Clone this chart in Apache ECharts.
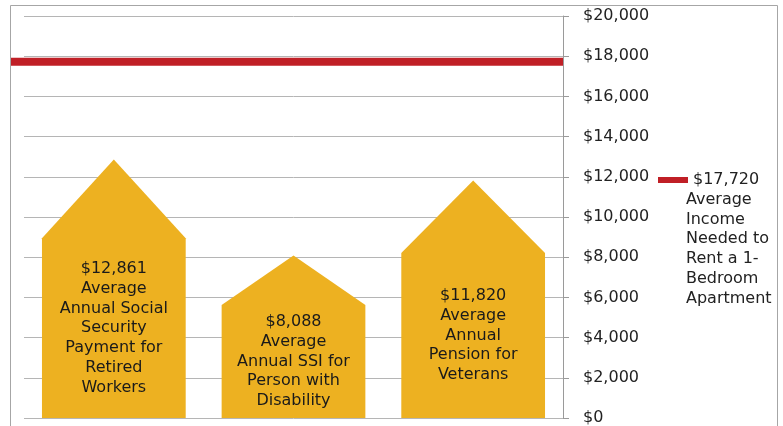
<!DOCTYPE html>
<html>
<head>
<meta charset="utf-8">
<script src="https://cdn.jsdelivr.net/npm/echarts@6/dist/echarts.min.js"></script>
<style>html,body{margin:0;padding:0;background:#fff}#c{width:783px;height:426px}</style>
</head>
<body>
<div id="c"></div>
<script>
// ---- data ----
const categories = ["Social Security", "SSI", "Veterans Pension"];
const values = [12861, 8088, 11820];
const barLabels = [
  "$12,861\nAverage\nAnnual Social\nSecurity\nPayment for\nRetired\nWorkers",
  "$8,088\nAverage\nAnnual SSI for\nPerson with\nDisability",
  "$11,820\nAverage\nAnnual\nPension for\nVeterans"
];
const rentValue = 17720;
const rentName = "$17,720";
const rentNote = "Average\nIncome\nNeeded to\nRent a 1-\nBedroom\nApartment";
const yTicks = { min: 0, max: 20000, interval: 2000 };

// ---- style ----
const GOLD = "#EDB121";
const RED = "#C01F26";
const FONT = '"DejaVu Sans"';
const BAR_RATIO = 0.8;
const SHOULDER = 0.695;

const chart = echarts.init(document.getElementById("c"), null, { renderer: "canvas" });

function renderHouse(params, api) {
  const i = api.value(0), v = api.value(1);
  const base = api.coord([i, 0]);
  const cx = base[0];
  const w = api.size([1, 0])[0] * BAR_RATIO;
  const peak = api.coord([i, v])[1];
  const sh = api.coord([i, v * SHOULDER])[1];
  return {
    type: "group",
    children: [
      {
        type: "polygon",
        shape: { points: [[cx - w / 2, base[1]], [cx - w / 2, sh], [cx, peak], [cx + w / 2, sh], [cx + w / 2, base[1]]] },
        style: { fill: GOLD }
      },
      {
        type: "text",
        style: {
          text: barLabels[i], x: cx, y: (sh + base[1]) / 2,
          align: "center", verticalAlign: "middle",
          font: "16px " + FONT, lineHeight: 19.8, fill: "#1a1a1a"
        }
      }
    ]
  };
}

function renderRent(params, api) {
  const y = api.coord([0, api.value(1)])[1];
  const cs = params.coordSys;
  return {
    type: "line",
    shape: { x1: cs.x - 13, y1: y, x2: cs.x + cs.width, y2: y },
    style: { stroke: RED, lineWidth: 8 }
  };
}

chart.setOption({
  animation: false,
  grid: { left: 24, right: 220, top: 16, bottom: 8, containLabel: false },
  xAxis: {
    type: "category", data: categories,
    axisLine: { show: false }, axisTick: { show: false }, axisLabel: { show: false }
  },
  yAxis: {
    type: "value", position: "right",
    min: yTicks.min, max: yTicks.max, interval: yTicks.interval,
    axisLine: { show: true, lineStyle: { color: "#9a9a9a", width: 1 } },
    axisTick: { show: true, length: 6, lineStyle: { color: "#9a9a9a" } },
    splitLine: { show: true, lineStyle: { color: "#b5b5b5", width: 1 } },
    axisLabel: {
      margin: 20, color: "#222222", fontSize: 16, fontFamily: "DejaVu Sans",
      formatter: v => "$" + v.toLocaleString("en-US")
    }
  },
  legend: {
    data: [{ name: rentName, icon: "rect" }],
    left: 658, top: 172, padding: 0,
    itemWidth: 30, itemHeight: 6, itemGap: 0,
    textStyle: { color: "#222222", fontSize: 16, fontFamily: "DejaVu Sans", lineHeight: 16, padding: [0, 0, 0, 0] }
  },
  graphic: [
    {
      type: "rect", silent: true, z: -1,
      shape: { x: 10.5, y: 5.5, width: 767, height: 440 },
      style: { fill: "none", stroke: "#a6a6a6", lineWidth: 1 }
    },
    {
      type: "text", left: 686, top: 190, silent: true,
      style: { text: rentNote, font: "16px " + FONT, lineHeight: 19.7, fill: "#222222" }
    }
  ],
  series: [
    {
      type: "custom", name: "houses", renderItem: renderHouse,
      data: values.map((v, i) => [i, v]), z: 2
    },
    {
      type: "custom", name: rentName, renderItem: renderRent, clip: false,
      itemStyle: { color: RED },
      data: [[0, rentValue]], z: 3
    }
  ]
});
</script>
</body>
</html>
